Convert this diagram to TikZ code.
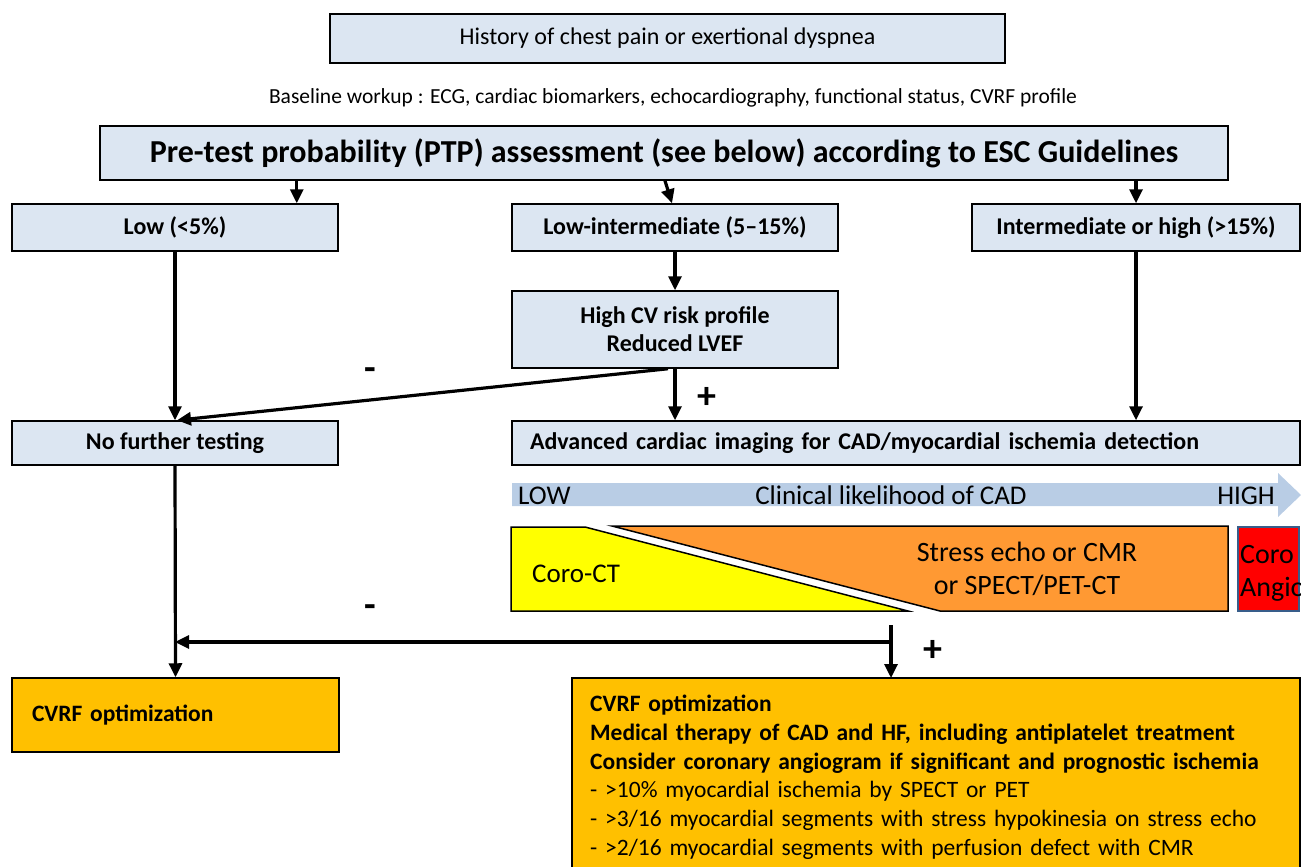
\documentclass[tikz,border=0pt]{standalone}
\usepackage{fontspec}
\setmainfont{Carlito}
\usetikzlibrary{positioning,arrows.meta}
\definecolor{boxblue}{HTML}{DCE6F2}
\definecolor{bandblue}{HTML}{B9CDE5}
\definecolor{ctyellow}{HTML}{FFFF00}
\definecolor{stressorange}{HTML}{FF9933}
\definecolor{cvrfgold}{HTML}{FFC000}
\definecolor{angiored}{HTML}{FF0000}
\definecolor{angioedge}{HTML}{385D8A}
\newcommand{\fsz}[2]{\fontsize{#1}{#2}\selectfont}
\tikzset{
	stepbox/.style={draw=black, line width=1.5pt, fill=boxblue, minimum width=326pt, minimum height=47pt, inner sep=0pt, align=center, font=\fsz{24}{28}\bfseries},
	goldbox/.style={draw=black, line width=1.5pt, fill=cvrfgold},
	flow/.style={line width=3.2pt, -{Triangle[length=14pt,width=13pt]}},
	sign/.style={font=\fsz{38}{38}\bfseries}
}

\begin{document}
\begin{tikzpicture}[x=1pt, y=-1pt]
	\useasboundingbox (0,0) rectangle (1301,867);
	
	% top of the chart
	\node[stepbox, minimum width=675pt, minimum height=49pt, font=\fsz{24}{28}] (history) at (667.5,38.5) {History of chest pain or exertional dyspnea};
	\node[font=\fsz{21.5}{24}] (baseline) at (673,98) {Baseline workup : ECG, cardiac biomarkers, echocardiography, functional status, CVRF profile};
	\node[stepbox, minimum width=1128pt, minimum height=54pt, font=\fsz{32}{36}\bfseries] (ptp) at (664,153) {Pre-test probability (PTP) assessment (see below) according to ESC Guidelines};
	
	% probability classes
	\node[stepbox] (low) at (175,227.5) {Low (<5\%)};
	\node[stepbox] (lowint) at (675,227.5) {Low-intermediate (5--15\%)};
	\node[stepbox, minimum width=328pt] (inthigh) at (1136,227.5) {Intermediate or high (>15\%)};
	\node[stepbox, minimum height=77pt] (riskprof) at (675,329.5) {High CV risk profile\\Reduced LVEF};
	\node[stepbox, minimum height=44pt] (nofurther) at (175,443) {No further testing};
	\node[stepbox, minimum width=788pt, minimum height=44pt, text width=752pt, align=left] (advanced) at (906,443) {Advanced cardiac imaging for CAD/myocardial ischemia detection};
	
	% likelihood band
	\fill[bandblue] (512,483) -- (1278,483) -- (1278,473) -- (1301,495) -- (1278,517) -- (1278,506) -- (512,506) -- cycle;
	\node[font=\fsz{27}{30}, anchor=base west, inner sep=0pt] (lowtag) at (518,504) {LOW};
	\node[font=\fsz{27}{30}, anchor=base, inner sep=0pt] (likely) at (891,504) {Clinical likelihood of CAD};
	\node[font=\fsz{27}{30}, anchor=base east, inner sep=0pt] (hightag) at (1275,504) {HIGH};
	
	% imaging modalities
	\draw[line width=1.5pt, fill=ctyellow] (511,527) -- (585,527) -- (908,611) -- (511,611) -- cycle;
	\draw[line width=1.5pt, fill=stressorange] (612,526) -- (1228,526) -- (1228,611) -- (940,611) -- cycle;
	\draw[line width=1.5pt, draw=angioedge, fill=angiored] (1238,527) rectangle (1299,611);
	\node[font=\fsz{27}{30}, anchor=west, inner sep=0pt] (coroct) at (532,574) {Coro-CT};
	\node[font=\fsz{28}{33}, align=center] (stress) at (1027,569) {Stress echo or CMR\\or SPECT/PET-CT};
	\node[font=\fsz{28}{33}, align=left, anchor=west, inner sep=0pt] (angio) at (1240,573) {Coro\\Angio};
	
	% management
	\node[goldbox, minimum width=327pt, minimum height=74pt, text width=287pt, inner xsep=20pt, inner ysep=0pt, align=left, font=\fsz{23.5}{26}\bfseries] (cvrfleft) at (175.5,715) {CVRF optimization};
	\draw[goldbox] (572,678) rectangle (1300,895);
	\node[anchor=north west, text width=700pt, inner xsep=18pt, inner ysep=17pt, align=left, font=\fsz{23.5}{28.7}] (cvrfright) at (572,678) {\textbf{CVRF optimization}\\
		\textbf{Medical therapy of CAD and HF, including antiplatelet treatment}\\
		\textbf{Consider coronary angiogram if significant and prognostic ischemia}\\
		- >10\% myocardial ischemia by SPECT or PET\\
		- >3/16 myocardial segments with stress hypokinesia on stress echo\\
		- >2/16 myocardial segments with perfusion defect with CMR};
	
	% connectors
	\draw[flow] (ptp.south -| low.north east) ++(-42,0) coordinate (ptplow) -- (ptplow |- low.north);
	\draw[flow] ([xshift=1pt]ptp.south) -- ([xshift=-3pt]lowint.north);
	\draw[flow] (ptp.south -| inthigh.north) -- (inthigh.north);
	\draw[flow] (low.south) -- (nofurther.north);
	\draw[flow] (lowint.south) -- (riskprof.north);
	\draw[flow] (riskprof.south) -- (riskprof.south |- advanced.north);
	\draw[flow] ([xshift=-7pt]riskprof.south) -- ([xshift=2pt]nofurther.north);
	\draw[flow] (inthigh.south) -- (inthigh.south |- advanced.north);
	\draw[flow] (nofurther.south) -- (cvrfleft.north);
	\coordinate (split) at (891,625);
	\coordinate (join) at (891,642);
	\draw[flow] (split) -- (split |- cvrfright.north);
	\draw[flow] (join) -- (join -| nofurther.south);
	
	% signs
	\node[sign] (minusup) at (370,374) {-};
	\node[sign] (plusup) at (707,398) {+};
	\node[sign] (minuslow) at (370,611) {-};
	\node[sign] (pluslow) at (933,651) {+};
	
\end{tikzpicture}
\end{document}
